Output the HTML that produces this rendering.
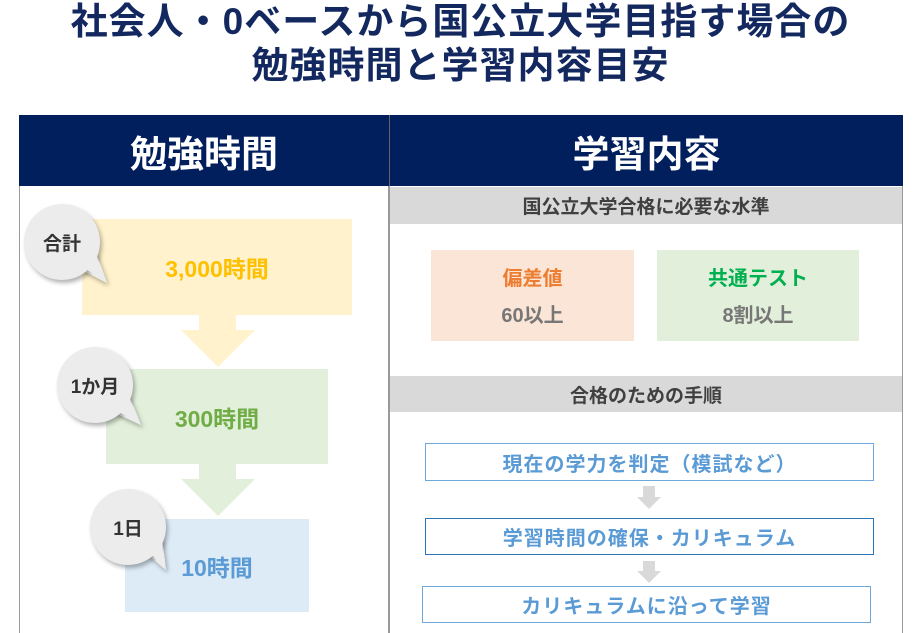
<!DOCTYPE html>
<html style="overflow:hidden;height:633px"><head><meta charset="utf-8"><style>
body{margin:0;width:921px;height:633px;background:#fff;position:relative;overflow:hidden;font-family:"Liberation Sans","Noto Sans CJK JP",sans-serif;font-weight:bold}
.a{position:absolute}
.t{left:0;width:921px;text-align:center;color:#13285f;font-size:37px;line-height:44px;letter-spacing:1px}
.c{display:flex;align-items:center;justify-content:center}
.bub{width:76px;height:76px;border-radius:50%;background:#ececec;box-shadow:2px 3px 4px rgba(0,0,0,.3);font-size:19px;color:#333}
.step{border:1.5px solid #6fa8dc;background:#fff;color:#5b9bd5;font-size:20px;letter-spacing:1px}
</style></head><body>
<div class="a t" style="top:0px">社会人・0ベースから国公立大学目指す場合の</div>
<div class="a t" style="top:44px">勉強時間と学習内容目安</div>

<div class="a" style="left:19px;top:115px;width:884px;height:518px;border:1.5px solid #999;border-bottom:none;box-sizing:border-box"></div>
<div class="a c" style="left:19px;top:115px;width:370px;height:71px;background:#001f5c;color:#fff;font-size:37px">勉強時間</div>
<div class="a c" style="left:389px;top:115px;width:514px;height:71px;background:#001f5c;color:#fff;font-size:37px;border-left:1.5px solid #666;box-sizing:border-box">学習内容</div>
<div class="a" style="left:388px;top:186px;width:1.5px;height:447px;background:#999"></div>

<!-- left -->
<div class="a c" style="left:82px;top:219px;width:270px;height:96px;background:#fff2cc;color:#ffc000;font-size:23px">3,000時間</div>
<div class="a" style="left:199px;top:314px;width:37px;height:17px;background:#fff2cc"></div>
<div class="a" style="left:181px;top:330px;border-left:37px solid transparent;border-right:37px solid transparent;border-top:37px solid #fff2cc"></div>
<div class="a c" style="left:106px;top:369px;width:222px;height:95px;background:#e2efda;color:#70ad47;font-size:23px">300時間</div>
<div class="a" style="left:199px;top:463px;width:37px;height:17px;background:#e2efda"></div>
<div class="a" style="left:181px;top:479px;border-left:37px solid transparent;border-right:37px solid transparent;border-top:37px solid #e2efda"></div>
<div class="a c" style="left:125px;top:519px;width:184px;height:93px;background:#ddebf7;color:#5b9bd5;font-size:23px">10時間</div>

<svg class="a" style="left:0;top:0" width="921" height="633">
<defs><filter id="s"><feDropShadow dx="2" dy="3" stdDeviation="2" flood-opacity="0.3"/></filter></defs>
<g fill="#ececec" filter="url(#s)">
<polygon points="82,270 96,252 107,283"/>
<polygon points="115,413 129,395 141,425"/>
<polygon points="148,555 162,537 166,570"/>
</g>
</svg>
<div class="a c bub" style="left:24px;top:204px">合計</div>
<div class="a c bub" style="left:57px;top:347px">1か月</div>
<div class="a c bub" style="left:90px;top:489px">1日</div>
<svg class="a" style="left:0;top:0" width="921" height="633">
<g fill="#ececec">
<polygon points="84,268 96,254 105,281"/>
<polygon points="117,411 129,397 139,423"/>
<polygon points="150,553 162,539 164,568"/>
</g>
</svg>

<!-- right -->
<div class="a c" style="left:390px;top:187px;width:512px;height:37px;background:#d9d9d9;color:#404040;font-size:19px">国公立大学合格に必要な水準</div>
<div class="a" style="left:431px;top:250px;width:203px;height:91px;background:#fbe5d6"></div>
<div class="a" style="left:431px;top:262px;width:203px;text-align:center;color:#ed7d31;font-size:20px">偏差値</div>
<div class="a" style="left:431px;top:299px;width:203px;text-align:center;color:#777;font-size:20px">60以上</div>
<div class="a" style="left:657px;top:250px;width:202px;height:91px;background:#e2efda"></div>
<div class="a" style="left:657px;top:262px;width:202px;text-align:center;color:#00b050;font-size:20px">共通テスト</div>
<div class="a" style="left:657px;top:299px;width:202px;text-align:center;color:#777;font-size:20px">8割以上</div>

<div class="a c" style="left:390px;top:376px;width:512px;height:36px;background:#d9d9d9;color:#404040;font-size:19px">合格のための手順</div>
<div class="a c step" style="left:425px;top:443px;width:449px;height:38px;box-sizing:border-box">現在の学力を判定（模試など）</div>
<div class="a" style="left:643px;top:486px;width:12px;height:12px;background:#d9d9d9"></div>
<div class="a" style="left:637px;top:497px;border-left:12px solid transparent;border-right:12px solid transparent;border-top:12px solid #d9d9d9"></div>
<div class="a c step" style="left:425px;top:518px;width:449px;height:37px;box-sizing:border-box;border-color:#2e75b6">学習時間の確保・カリキュラム</div>
<div class="a" style="left:643px;top:561px;width:12px;height:11px;background:#d9d9d9"></div>
<div class="a" style="left:637px;top:571px;border-left:12px solid transparent;border-right:12px solid transparent;border-top:12px solid #d9d9d9"></div>
<div class="a c step" style="left:422px;top:586px;width:449px;height:37px;box-sizing:border-box">カリキュラムに沿って学習</div>
</body></html>
